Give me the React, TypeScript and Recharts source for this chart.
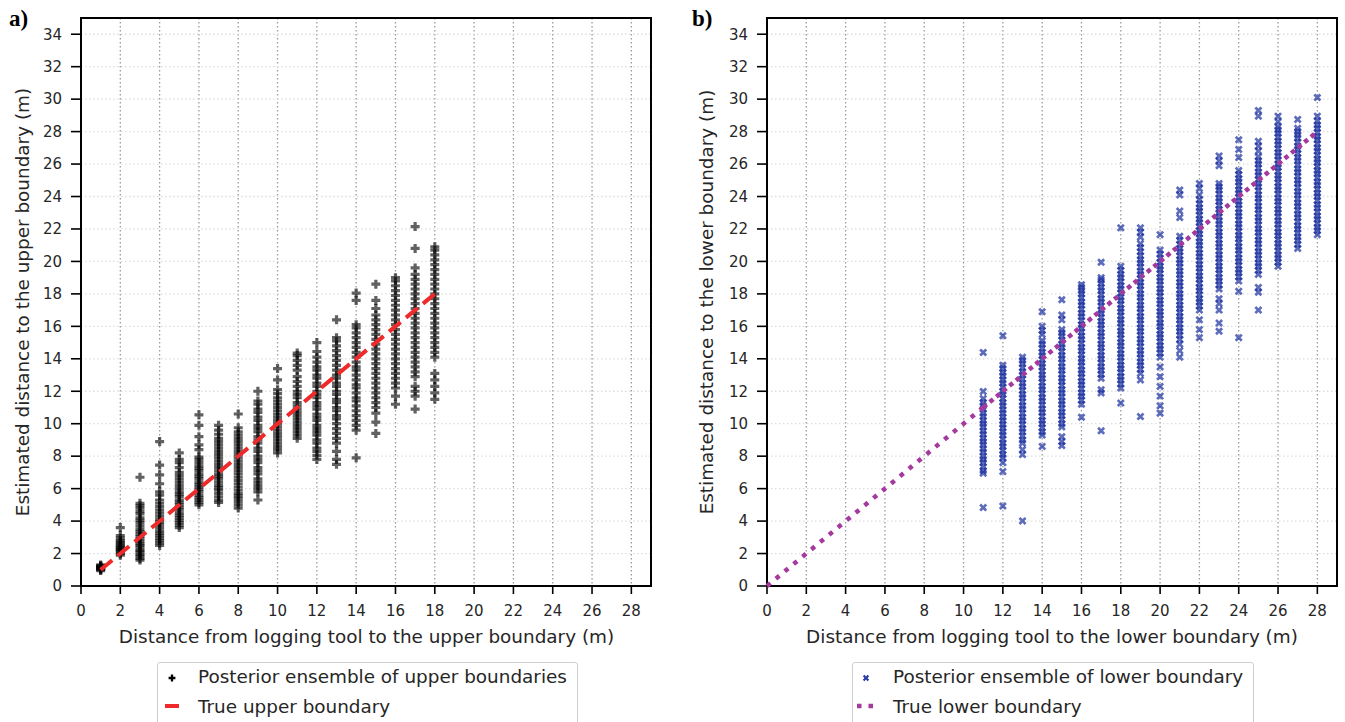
import { ScatterChart, Scatter, XAxis, YAxis, CartesianGrid, ReferenceArea } from "recharts";

const FONT = '"DejaVu Sans", sans-serif';
const INK = "#262626";
const TITLE_SIZE = 18.4;

const xTicks = [0, 2, 4, 6, 8, 10, 12, 14, 16, 18, 20, 22, 24, 26, 28];
const yTicks = [0, 2, 4, 6, 8, 10, 12, 14, 16, 18, 20, 22, 24, 26, 28, 30, 32, 34];

// panel a) posterior ensemble of upper boundary, one column per true distance
const upperX = [1, 2, 3, 4, 5, 6, 7, 8, 9, 10, 11, 12, 13, 14, 15, 16, 17, 18];
const upperY: number[][] = [
  [0.95, 1.0, 1.05, 1.1, 1.12, 1.15, 1.2, 1.25, 1.3],
  [1.9, 2.0, 2.1, 2.2, 2.25, 2.35, 2.4, 2.5, 2.6, 2.7, 2.8, 2.95, 3.1, 3.6],
  [1.6, 1.7, 1.85, 1.95, 2.1, 2.2, 2.35, 2.5, 2.6, 2.75, 2.9, 3.05, 3.2, 3.35, 3.5, 3.7, 3.9, 4.05, 4.2, 4.45, 4.6, 4.8, 4.95, 5.1, 6.7],
  [2.5, 2.65, 2.8, 2.95, 3.1, 3.25, 3.4, 3.6, 3.8, 3.95, 4.1, 4.3, 4.5, 4.7, 4.9, 5.1, 5.3, 5.6, 5.8, 6.3, 6.85, 7.45, 8.9],
  [3.6, 3.75, 3.9, 4.05, 4.2, 4.35, 4.5, 4.7, 4.85, 5.0, 5.15, 5.3, 5.5, 5.65, 5.8, 6.0, 6.2, 6.4, 6.6, 6.8, 7.0, 7.3, 7.6, 7.8, 8.2],
  [5.0, 5.15, 5.3, 5.45, 5.6, 5.8, 5.95, 6.1, 6.25, 6.4, 6.6, 6.75, 6.9, 7.1, 7.25, 7.4, 7.6, 7.8, 7.95, 8.4, 8.7, 9.2, 9.9, 10.55],
  [5.15, 5.3, 5.5, 5.7, 5.9, 6.05, 6.2, 6.4, 6.6, 6.75, 6.9, 7.1, 7.3, 7.5, 7.7, 7.9, 8.1, 8.3, 8.5, 8.7, 8.9, 9.1, 9.35, 9.6, 9.9],
  [4.8, 5.0, 5.2, 5.4, 5.55, 5.7, 5.9, 6.1, 6.3, 6.5, 6.7, 6.9, 7.1, 7.3, 7.5, 7.7, 7.9, 8.1, 8.3, 8.5, 8.7, 8.9, 9.1, 9.3, 9.5, 9.75, 10.6],
  [5.3, 5.8, 6.0, 6.2, 6.4, 6.6, 6.9, 7.1, 7.3, 7.6, 7.8, 8.0, 8.3, 8.5, 8.8, 9.0, 9.2, 9.5, 9.7, 9.9, 10.2, 10.4, 10.7, 10.9, 11.2, 11.4, 12.0],
  [8.2, 8.4, 8.6, 8.8, 9.0, 9.2, 9.4, 9.6, 9.8, 10.0, 10.2, 10.4, 10.6, 10.8, 11.0, 11.2, 11.4, 11.6, 11.85, 12.1, 12.7, 13.4],
  [9.1, 9.3, 9.5, 9.7, 9.9, 10.1, 10.3, 10.5, 10.7, 10.9, 11.1, 11.3, 11.6, 11.8, 12.0, 12.3, 12.6, 12.9, 13.3, 13.6, 13.9, 14.2, 14.35],
  [7.8, 8.05, 8.3, 8.5, 8.8, 9.0, 9.3, 9.5, 9.7, 9.9, 10.2, 10.4, 10.6, 10.9, 11.1, 11.3, 11.6, 11.8, 12.0, 12.3, 12.5, 12.8, 13.0, 13.3, 13.5, 13.8, 14.1, 14.45, 15.0],
  [7.5, 7.8, 8.3, 8.8, 9.1, 9.4, 9.7, 10.0, 10.3, 10.5, 10.8, 11.0, 11.3, 11.5, 11.8, 12.0, 12.3, 12.5, 12.8, 13.0, 13.3, 13.6, 13.9, 14.2, 14.5, 14.8, 15.1, 15.3, 16.4],
  [7.9, 9.6, 9.9, 10.2, 10.5, 10.8, 11.1, 11.4, 11.6, 11.9, 12.2, 12.4, 12.7, 13.0, 13.3, 13.5, 13.8, 14.1, 14.4, 14.7, 15.0, 15.3, 15.6, 15.9, 16.1, 17.6, 18.05],
  [9.4, 10.1, 10.65, 11.0, 11.3, 11.6, 11.9, 12.2, 12.5, 12.8, 13.1, 13.4, 13.7, 14.0, 14.3, 14.6, 14.9, 15.2, 15.5, 15.8, 16.1, 16.4, 16.7, 17.1, 17.6, 18.6],
  [11.2, 11.7, 12.2, 12.5, 12.8, 13.1, 13.4, 13.7, 14.0, 14.3, 14.6, 14.9, 15.2, 15.5, 15.8, 16.1, 16.4, 16.7, 17.0, 17.3, 17.6, 17.9, 18.2, 18.5, 18.8, 19.0],
  [10.9, 11.7, 12.0, 12.3, 12.9, 13.2, 13.5, 13.8, 14.1, 14.4, 14.7, 15.0, 15.3, 15.6, 15.9, 16.2, 16.5, 16.8, 17.1, 17.4, 17.7, 18.0, 18.3, 18.6, 18.9, 19.2, 19.6, 20.8, 22.15],
  [11.5, 11.9, 12.3, 12.7, 13.1, 14.1, 14.4, 14.7, 15.0, 15.3, 15.6, 15.9, 16.2, 16.5, 16.8, 17.1, 17.4, 17.7, 18.0, 18.3, 18.6, 18.9, 19.2, 19.5, 19.8, 20.1, 20.4, 20.7, 20.9],
];
const upperLineX = [1, 18];
const upperLineY = [1, 18];

// panel b) posterior ensemble of lower boundary
const lowerX = [11, 12, 13, 14, 15, 16, 17, 18, 19, 20, 21, 22, 23, 24, 25, 26, 27, 28];
const lowerY: number[][] = [
  [4.83, 6.95, 7.1, 7.35, 7.6, 7.8, 8.0, 8.25, 8.45, 8.7, 8.9, 9.1, 9.35, 9.55, 9.8, 10.0, 10.2, 10.45, 10.65, 10.9, 11.1, 11.3, 11.55, 11.99, 14.39],
  [4.93, 7.05, 7.6, 7.9, 8.1, 8.35, 8.6, 8.8, 9.05, 9.3, 9.5, 9.75, 9.95, 10.2, 10.4, 10.65, 10.85, 11.1, 11.3, 11.55, 11.8, 12.0, 12.25, 12.5, 12.7, 12.95, 13.15, 13.4, 13.6, 15.42],
  [4.01, 8.1, 8.4, 8.8, 9.0, 9.25, 9.5, 9.7, 9.95, 10.2, 10.4, 10.65, 10.9, 11.1, 11.35, 11.6, 11.8, 12.05, 12.3, 12.5, 12.75, 13.0, 13.2, 13.45, 13.7, 13.9, 14.1],
  [8.6, 9.3, 9.5, 9.75, 10.0, 10.2, 10.45, 10.7, 10.9, 11.15, 11.4, 11.6, 11.85, 12.1, 12.3, 12.55, 12.8, 13.0, 13.25, 13.5, 13.7, 13.95, 14.2, 14.4, 14.65, 14.9, 15.1, 15.5, 15.75, 16.0, 16.9],
  [8.65, 8.9, 9.2, 9.8, 10.0, 10.25, 10.5, 10.7, 10.95, 11.2, 11.4, 11.65, 11.9, 12.1, 12.35, 12.6, 12.8, 13.05, 13.3, 13.5, 13.75, 14.0, 14.2, 14.45, 14.7, 14.9, 15.15, 15.4, 15.6, 15.8, 16.4, 16.7, 17.64],
  [10.4, 11.2, 11.45, 11.7, 11.9, 12.15, 12.4, 12.6, 12.85, 13.1, 13.3, 13.55, 13.8, 14.0, 14.25, 14.5, 14.7, 14.95, 15.2, 15.4, 15.65, 15.9, 16.1, 16.35, 16.6, 16.8, 17.05, 17.3, 17.5, 17.75, 18.0, 18.2, 18.4, 18.57],
  [9.56, 11.9, 12.1, 12.8, 13.05, 13.3, 13.5, 13.75, 14.0, 14.2, 14.45, 14.7, 14.9, 15.15, 15.4, 15.6, 15.85, 16.1, 16.3, 16.55, 16.8, 17.0, 17.25, 17.5, 17.7, 17.95, 18.2, 18.4, 18.65, 18.85, 19.0, 19.95],
  [11.27, 12.2, 12.45, 12.7, 12.9, 13.15, 13.4, 13.6, 13.85, 14.1, 14.3, 14.55, 14.8, 15.0, 15.25, 15.5, 15.7, 15.95, 16.2, 16.4, 16.65, 16.9, 17.1, 17.35, 17.6, 17.8, 18.05, 18.3, 18.5, 18.75, 19.0, 19.2, 19.45, 19.7, 22.07],
  [10.44, 12.7, 13.1, 13.35, 13.6, 13.8, 14.05, 14.3, 14.5, 14.75, 15.0, 15.2, 15.45, 15.7, 15.9, 16.15, 16.4, 16.6, 16.85, 17.1, 17.3, 17.55, 17.8, 18.0, 18.25, 18.5, 18.7, 18.95, 19.2, 19.4, 19.65, 19.9, 20.1, 20.35, 20.6, 20.85, 21.1, 21.5, 21.8, 22.07],
  [10.65, 11.1, 11.7, 12.3, 12.9, 13.5, 14.1, 14.35, 14.6, 14.8, 15.05, 15.3, 15.5, 15.75, 16.0, 16.2, 16.45, 16.7, 16.9, 17.15, 17.4, 17.6, 17.85, 18.1, 18.3, 18.55, 18.8, 19.0, 19.25, 19.5, 19.7, 19.95, 20.2, 20.45, 20.7, 21.65],
  [14.1, 14.5, 14.9, 15.2, 15.45, 15.7, 15.9, 16.15, 16.4, 16.6, 16.85, 17.1, 17.3, 17.55, 17.8, 18.0, 18.25, 18.5, 18.7, 18.95, 19.2, 19.4, 19.65, 19.9, 20.1, 20.35, 20.6, 20.8, 21.05, 21.3, 21.55, 22.7, 23.1, 24.1, 24.4],
  [15.3, 15.8, 16.4, 17.0, 17.25, 17.5, 17.7, 17.95, 18.2, 18.4, 18.65, 18.9, 19.1, 19.35, 19.6, 19.8, 20.05, 20.3, 20.5, 20.75, 21.0, 21.2, 21.45, 21.7, 21.9, 22.15, 22.4, 22.6, 22.85, 23.1, 23.3, 23.55, 23.8, 24.1, 24.5, 24.8],
  [15.7, 16.2, 17.0, 17.4, 17.7, 18.3, 18.55, 18.8, 19.0, 19.25, 19.5, 19.7, 19.95, 20.2, 20.4, 20.65, 20.9, 21.1, 21.35, 21.6, 21.8, 22.05, 22.3, 22.5, 22.75, 23.0, 23.2, 23.45, 23.7, 23.9, 24.15, 24.4, 24.6, 24.8, 25.9, 26.2, 26.5],
  [15.3, 18.16, 18.8, 19.05, 19.3, 19.5, 19.75, 20.0, 20.2, 20.45, 20.7, 20.9, 21.15, 21.4, 21.6, 21.85, 22.1, 22.3, 22.55, 22.8, 23.0, 23.25, 23.5, 23.7, 23.95, 24.2, 24.4, 24.65, 24.9, 25.1, 25.35, 25.6, 26.4, 26.9, 27.5],
  [17.0, 18.1, 18.4, 19.2, 19.45, 19.7, 19.9, 20.15, 20.4, 20.6, 20.85, 21.1, 21.3, 21.55, 21.8, 22.0, 22.25, 22.5, 22.7, 22.95, 23.2, 23.4, 23.65, 23.9, 24.1, 24.35, 24.6, 24.8, 25.05, 25.3, 25.5, 25.75, 26.0, 26.2, 26.45, 26.8, 27.1, 27.4, 28.95, 29.3],
  [19.7, 19.95, 20.2, 20.4, 20.65, 20.9, 21.1, 21.35, 21.6, 21.8, 22.05, 22.3, 22.5, 22.75, 23.0, 23.2, 23.45, 23.7, 23.9, 24.15, 24.4, 24.6, 24.85, 25.1, 25.3, 25.55, 25.8, 26.0, 26.25, 26.5, 26.7, 26.95, 27.2, 27.4, 27.65, 27.9, 28.1, 28.3, 28.6, 28.95],
  [20.8, 21.05, 21.3, 21.5, 21.75, 22.0, 22.2, 22.45, 22.7, 22.9, 23.15, 23.4, 23.6, 23.85, 24.1, 24.3, 24.55, 24.8, 25.0, 25.25, 25.5, 25.7, 25.95, 26.2, 26.4, 26.65, 26.9, 27.1, 27.35, 27.6, 27.8, 28.0, 28.2, 28.75],
  [21.65, 21.9, 22.1, 22.35, 22.6, 22.8, 23.05, 23.3, 23.5, 23.75, 24.0, 24.2, 24.45, 24.7, 24.9, 25.15, 25.4, 25.6, 25.85, 26.1, 26.3, 26.55, 26.8, 27.0, 27.25, 27.5, 27.7, 27.95, 28.2, 28.4, 28.65, 28.95, 30.1],
];
const lowerLineX = [0, 11, 28];
const lowerLineY = [0, 11, 28];

type Pt = { x: number; y: number };
const toPoints = (xs: number[], ys: number[][]): Pt[] =>
  xs.flatMap((x, i) => ys[i].map((y) => ({ x, y })));
const toLine = (xs: number[], ys: number[]): Pt[] => xs.map((x, i) => ({ x, y: ys[i] }));

const plusPath = (cx: number, cy: number, s: number, t: number) =>
  `M${cx - t},${cy - s}H${cx + t}V${cy - t}H${cx + s}V${cy + t}H${cx + t}V${cy + s}H${cx - t}V${cy + t}H${cx - s}V${cy - t}H${cx - t}Z`;

const PlusMarker = (props: any) => (
  <path d={plusPath(props.cx, props.cy, 4.5, 1.6)} fill="#000" fillOpacity={0.62} />
);

const XMarker = (props: any) => (
  <path
    d={plusPath(props.cx, props.cy, 4.3, 1.35)}
    transform={`rotate(45 ${props.cx} ${props.cy})`}
    fill="rgb(18,40,155)"
    fillOpacity={0.68}
  />
);

const NoMarker = () => <g />;

type LineCfg = { data: Pt[]; stroke: string; width: number; dash: string };

function Panel({
  left,
  axisW,
  rightM,
  points,
  marker,
  lines,
}: {
  left: number;
  axisW: number;
  rightM: number;
  points: Pt[];
  marker: (p: any) => any;
  lines: LineCfg[];
}) {
  const tick = { fontSize: 15, fill: INK, fontFamily: FONT };
  return (
    <div style={{ position: "absolute", left, top: 0 }}>
      <ScatterChart
        width={axisW + 570 + rightM}
        height={656}
        margin={{ top: 18, right: rightM, bottom: 0, left: 0 }}
      >
        <CartesianGrid horizontal={false} stroke="#9a9a9a" strokeDasharray="1.5 2.5" strokeWidth={1.3} />
        <CartesianGrid vertical={false} stroke="#dedede" strokeDasharray="1.5 2.5" strokeWidth={1.3} />
        <XAxis
          type="number"
          dataKey="x"
          domain={[0, 29]}
          ticks={xTicks}
          interval={0}
          height={70}
          tickSize={8}
          tickMargin={11}
          tick={tick}
          axisLine={{ stroke: "#000", strokeWidth: 2 }}
          tickLine={{ stroke: "#000", strokeWidth: 1.6 }}
        />
        <YAxis
          type="number"
          dataKey="y"
          domain={[0, 35]}
          ticks={yTicks}
          interval={0}
          width={axisW}
          tickSize={10}
          tickMargin={9}
          tick={tick}
          axisLine={{ stroke: "#000", strokeWidth: 2 }}
          tickLine={{ stroke: "#000", strokeWidth: 1.6 }}
        />
        <ReferenceArea x1={0} x2={29} y1={0} y2={35} fill="none" stroke="#000" strokeWidth={2} />
        <Scatter data={points} shape={marker} isAnimationActive={false} />
        {lines.map((l, i) => (
          <Scatter
            key={i}
            data={l.data}
            fill={l.stroke}
            line={{ stroke: l.stroke, strokeWidth: l.width, strokeDasharray: l.dash, fill: "none" }}
            lineType="joint"
            shape={NoMarker}
            isAnimationActive={false}
          />
        ))}
      </ScatterChart>
    </div>
  );
}

const textStyle = {
  position: "absolute" as const,
  fontFamily: FONT,
  fontSize: TITLE_SIZE,
  color: INK,
  whiteSpace: "nowrap" as const,
};

function AxisTitles({ cx, cyLabelX, xText, yText }: { cx: number; cyLabelX: number; xText: string; yText: string }) {
  return (
    <>
      <div style={{ ...textStyle, left: cx, top: 636, transform: "translate(-50%, -50%)" }}>{xText}</div>
      <div style={{ ...textStyle, left: cyLabelX, top: 302, transform: "translate(-50%, -50%) rotate(-90deg)" }}>{yText}</div>
    </>
  );
}

function LegendBox({
  left,
  width,
  textLeft,
  markerX,
  first,
  second,
  upper,
}: {
  left: number;
  width: number;
  textLeft: number;
  markerX: number;
  first: string;
  second: string;
  upper: boolean;
}) {
  return (
    <>
      <div
        style={{
          position: "absolute",
          left,
          top: 662,
          width,
          height: 70,
          border: "1px solid #cfcfcf",
          borderRadius: 3,
          background: "#fff",
        }}
      />
      <svg style={{ position: "absolute", left: 0, top: 0 }} width={1345} height={722}>
        {upper ? (
          <>
            <path d={plusPath(markerX, 678, 3.4, 1.15)} fill="#000" />
            <line x1={markerX - 7} x2={markerX + 7} y1={706} y2={706} stroke="#ee2a2a" strokeWidth={4} />
          </>
        ) : (
          <>
            <path d={plusPath(markerX, 678, 3.4, 1.1)} transform={`rotate(45 ${markerX} 678)`} fill="rgb(40,60,165)" />
            <line x1={markerX - 9} x2={markerX + 9} y1={706} y2={706} stroke="#a53a9e" strokeWidth={4.5} strokeDasharray="4.5 7" />
          </>
        )}
      </svg>
      <div style={{ ...textStyle, left: textLeft, top: 665.5, lineHeight: "22px" }}>{first}</div>
      <div style={{ ...textStyle, left: textLeft, top: 695.5, lineHeight: "22px" }}>{second}</div>
    </>
  );
}

export default function App() {
  const upperPts = toPoints(upperX, upperY);
  const lowerPts = toPoints(lowerX, lowerY);
  const upperLine = toLine(upperLineX, upperLineY);
  const lowerLine = toLine(lowerLineX, lowerLineY);

  return (
    <div
      style={{
        position: "absolute",
        left: 0,
        top: 0,
        width: 1345,
        height: 722,
        overflow: "hidden",
        background: "#fff",
        fontFamily: FONT,
      }}
    >
      <Panel
        left={0}
        axisW={81}
        rightM={11}
        points={upperPts}
        marker={PlusMarker}
        lines={[{ data: upperLine, stroke: "#ee2a2a", width: 4, dash: "15 7" }]}
      />
      <Panel
        left={685}
        axisW={82}
        rightM={8}
        points={lowerPts}
        marker={XMarker}
        lines={[
          { data: lowerLine.slice(0, 2), stroke: "#a53a9e", width: 4.5, dash: "4.5 7" },
          { data: lowerLine.slice(1, 3), stroke: "#a53a9e", width: 4.5, dash: "4.5 4" },
        ]}
      />
      <AxisTitles
        cx={366.5}
        cyLabelX={22}
        xText="Distance from logging tool to the upper boundary (m)"
        yText="Estimated distance to the upper boundary (m)"
      />
      <AxisTitles
        cx={1052}
        cyLabelX={706}
        xText="Distance from logging tool to the lower boundary (m)"
        yText="Estimated distance to the lower boundary (m)"
      />
      <div style={{ position: "absolute", left: 9, top: 6, fontFamily: '"Liberation Serif", serif', fontWeight: 700, fontSize: 23 }}>a)</div>
      <div style={{ position: "absolute", left: 692, top: 6, fontFamily: '"Liberation Serif", serif', fontWeight: 700, fontSize: 23 }}>b)</div>
      <LegendBox
        left={157}
        width={419}
        textLeft={198}
        markerX={172}
        first="Posterior ensemble of upper boundaries"
        second="True upper boundary"
        upper
      />
      <LegendBox
        left={852}
        width={400}
        textLeft={893}
        markerX={866}
        first="Posterior ensemble of lower boundary"
        second="True lower boundary"
        upper={false}
      />
    </div>
  );
}
